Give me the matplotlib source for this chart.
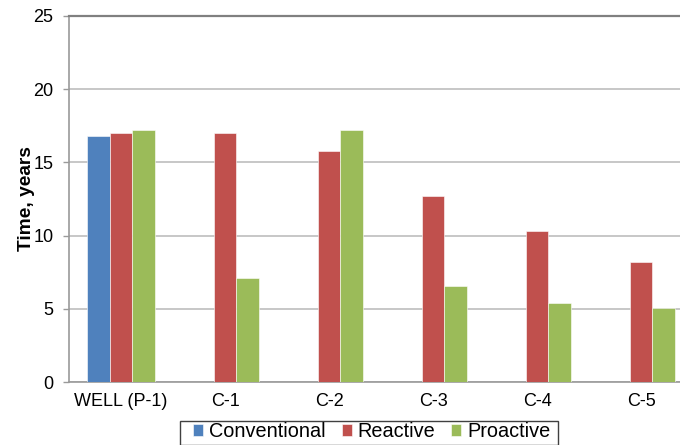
import numpy as np
import matplotlib
matplotlib.use("Agg")
import matplotlib.pyplot as plt
from matplotlib.patches import Rectangle

plt.rcParams['font.family'] = ['Liberation Sans', 'DejaVu Sans']

# --- Data ---
categories = ["WELL (P-1)", "C-1", "C-2", "C-3", "C-4", "C-5"]
conventional = [16.8, 0, 0, 0, 0, 0]
reactive = [17.0, 17.0, 15.8, 12.7, 10.3, 8.2]
proactive = [17.2, 7.1, 17.2, 6.6, 5.4, 5.1]
series_names = ["Conventional", "Reactive", "Proactive"]
colors = ["#4F81BD", "#C0504D", "#9BBB59"]

W, H = 680, 445

# --- Figure ---
fig = plt.figure(figsize=(W / 100, H / 100), dpi=100)
ax = fig.add_axes([69 / W, 1 - 382.3 / H, 624 / W, (382.3 - 15.7) / H])

x = np.arange(len(categories))
width = 0.22
for i, (vals, name, col) in enumerate(zip([conventional, reactive, proactive], series_names, colors)):
    ax.bar(x + (i - 1) * width, vals, width, color=col, label=name,
           edgecolor="white", linewidth=0.4, zorder=3)

ax.set_xlim(-0.5, len(categories) - 0.5)
ax.set_ylim(0, 25)
ax.set_yticks([0, 5, 10, 15, 20, 25])
ax.set_xticks(x)
ax.set_xticklabels(categories)

# Grid and spines, light gray like a spreadsheet chart
ax.yaxis.grid(True, color="#bebebe", linewidth=1.2, zorder=0)
ax.set_axisbelow(True)
for side in ["left", "bottom"]:
    ax.spines[side].set_color("#9a9a9a")
    ax.spines[side].set_linewidth(1.2)
ax.spines["top"].set_color("#808080")
ax.spines["top"].set_linewidth(1.6)
ax.spines["right"].set_visible(False)

ax.tick_params(axis="y", length=4.3, width=1.0, color="#9a9a9a", pad=7, labelsize=13)
ax.tick_params(axis="x", length=0, pad=8, labelsize=13)
ax.set_ylabel("Time, years", fontsize=13.8, fontweight="bold", labelpad=-1)

# Legend below the plot; the box is drawn separately so it can run off the bottom edge
leg = fig.legend(loc="upper center", bbox_to_anchor=(372 / W, 1 - 421 / H),
                 ncol=3, fontsize=14.3, frameon=False, borderaxespad=0,
                 handlelength=0.5, handleheight=0.5, handletextpad=0.3,
                 columnspacing=0.8, borderpad=0.05)
fig.patches.append(Rectangle((180 / W, 0), (558 - 180) / W, 1 - 420.5 / H,
                             transform=fig.transFigure, fill=False,
                             edgecolor="#404040", linewidth=1.0))

plt.savefig("out.png", dpi=100)
plt.close()
